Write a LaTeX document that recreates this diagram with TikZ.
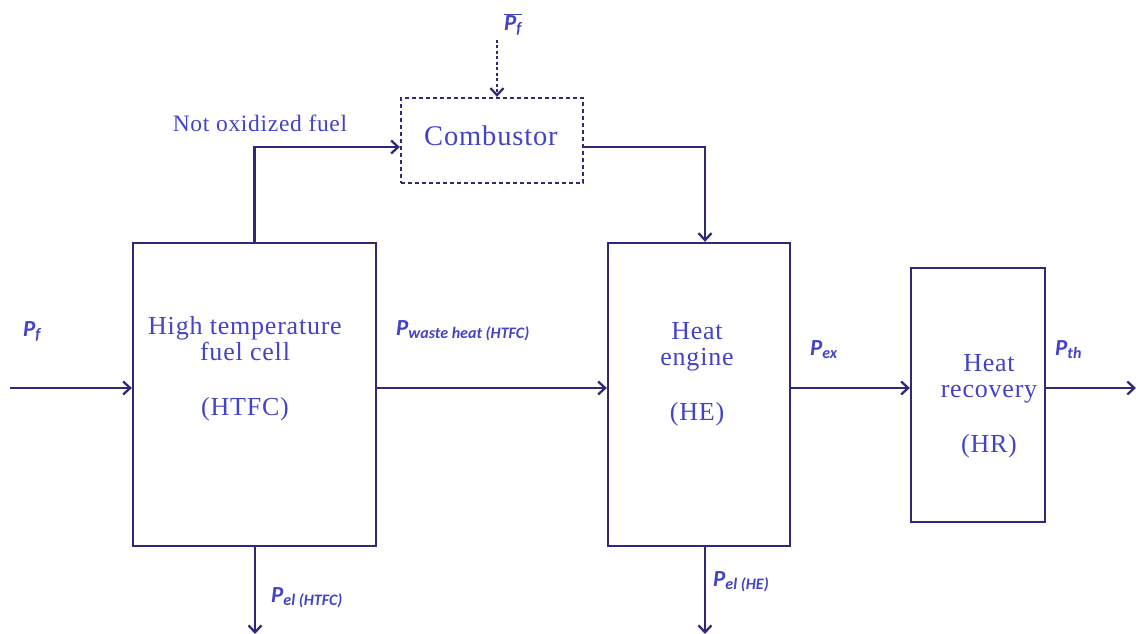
\documentclass[tikz,border=0pt]{standalone}
\usepackage{fontspec}
\setmainfont{Liberation Serif}[LetterSpace=3]
\newfontfamily\lblfont{Carlito}
\usetikzlibrary{arrows.meta}
\definecolor{linec}{HTML}{2E2A78}
\definecolor{textc}{HTML}{4343C8}
\newcommand{\plbl}[1]{{\lblfont\bfseries\itshape\fontsize{23}{25}\selectfont P\raisebox{-3pt}{\fontsize{16}{18}\selectfont #1}}}
\tikzset{
  blk/.style={draw=linec, line width=2.3pt, minimum width=#1, inner sep=0pt},
  flow/.style={draw=linec, line width=2.3pt, -{Straight Barb[length=7pt,width=13pt,line width=2.3pt]}},
  boxtxt/.style={text=textc, font=\fontsize{26}{29}\selectfont, align=center, inner sep=0pt},
  lbl/.style={text=textc, inner sep=0pt},
}
\begin{document}
\begin{tikzpicture}[x=1pt,y=-1pt]
\useasboundingbox (0,0) rectangle (1136,634);
\node[blk=243pt, minimum height=303pt] (htfc) at (254.5,394.5) {};
\node[blk=182pt, minimum height=303pt] (he) at (699,394.5) {};
\node[blk=134pt, minimum height=254pt] (hr) at (978,395) {};
\node[blk=182pt, minimum height=85pt, dash pattern=on 4pt off 3pt] (comb) at (492,140.5) {};

\node[boxtxt] (htfct) at (245,369) {High temperature\\[-3pt]fuel cell\\[26pt](HTFC)};
\node[boxtxt] (het) at (697,374) {Heat\\[-3pt]engine\\[26pt](HE)};
\node[boxtxt] (hrt) at (989,406) {Heat\\[-3pt]recovery\\[26pt](HR)};
\node[boxtxt, font=\fontsize{28.5}{31}\selectfont] (combt) at (491,136) {Combustor};
\node[lbl, font=\fontsize{23.5}{26}\selectfont] (nof) at (260,123) {Not oxidized fuel};

\node[lbl, anchor=west] (pf) at (23,331) {\plbl{f}};
\node[lbl, anchor=west] (pw) at (396,331) {\plbl{waste heat (HTFC)}};
\node[lbl, anchor=west] (pex) at (810,350) {\plbl{ex}};
\node[lbl, anchor=west] (pth) at (1055,350) {\plbl{th}};
\node[lbl, anchor=west] (pel1) at (271,598) {\plbl{el (HTFC)}};
\node[lbl, anchor=west] (pel2) at (713,582) {\plbl{el (HE)}};
\node[lbl, anchor=west] (pfb) at (504,24) {$\overline{\mbox{\plbl{f}}}$};

\coordinate (in) at (10,388);
\coordinate (out) at (1136,388);
\coordinate (ftop) at (497,40);
\coordinate (el1) at (255,634);
\coordinate (el2) at (705,634);

\draw[flow] (in) -- (in -| htfc.west);
\draw[flow] (in -| htfc.east) -- (in -| he.west);
\draw[flow] (in -| he.east) -- (in -| hr.west);
\draw[flow] (in -| hr.east) -- (out);
\draw[flow] (htfc.north) |- ([yshift=-6.5pt]comb.west);
\draw[flow] ([yshift=-6.5pt]comb.east) -| ([xshift=6pt]he.north);
\draw[flow, dash pattern=on 3pt off 2.5pt] (ftop) -- (ftop |- comb.north);
\draw[flow] (el1 |- htfc.south) -- (el1);
\draw[flow] (el2 |- he.south) -- (el2);
\end{tikzpicture}
\end{document}
